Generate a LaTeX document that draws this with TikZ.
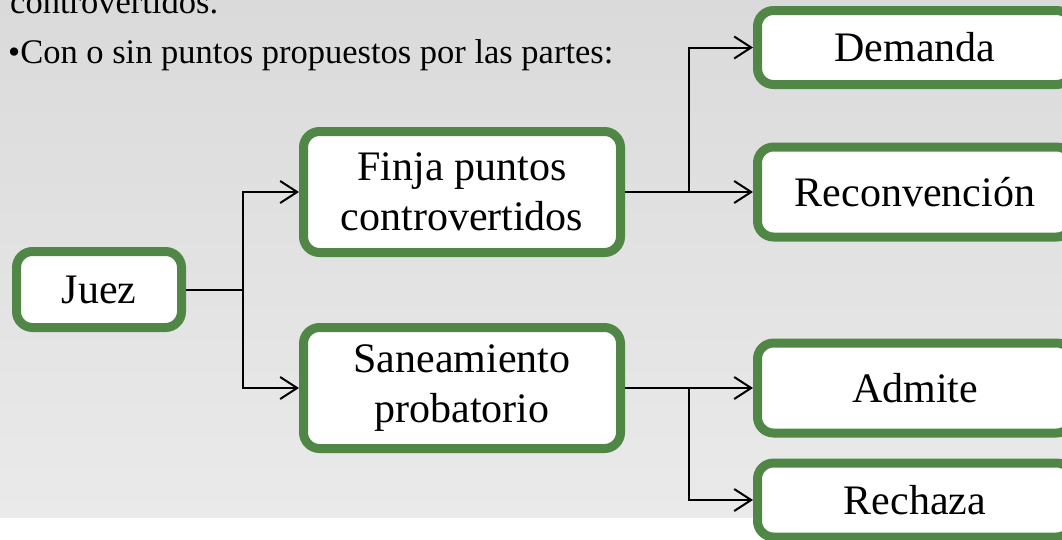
\documentclass[tikz,border=0pt]{standalone}
\usepackage{fontspec}
\setmainfont{Liberation Serif}
\usetikzlibrary{arrows.meta}
\definecolor{boxgreen}{RGB}{80,135,70}
\definecolor{bgtop}{RGB}{218,218,218}
\definecolor{bgbot}{RGB}{234,234,234}
\begin{document}
\begin{tikzpicture}[x=1pt,y=-1pt,
  box/.style={draw=boxgreen, line width=9pt, fill=white, rounded corners=16pt,
    font=\fontsize{42}{50}\selectfont, align=center, inner sep=0pt},
  conn/.style={line width=2pt, draw=black},
  arr/.style={conn, -{Straight Barb[length=17pt,width=22pt,line width=2pt]}},
  toptext/.style={anchor=base west, inner sep=0pt, font=\fontsize{34.5}{50}\selectfont}]
\useasboundingbox (0,0) rectangle (1062,539);
\fill[white] (0,0) rectangle (1062,539);
\shade[top color=bgtop, bottom color=bgbot] (0,0) rectangle (1062,517);

\node[toptext] (l1) at (10,13) {controvertidos.};
\node[toptext] (l2) at (8,63) {•Con o sin puntos propuestos por las partes:};

\node[box, minimum width=165pt, minimum height=76pt] (juez) at (99,289.5) {Juez};
\node[box, minimum width=317pt, minimum height=121pt] (finja) at (462,192) {Finja puntos\\controvertidos};
\node[box, minimum width=317pt, minimum height=121pt] (sanea) at (462,388) {Saneamiento\\probatorio};
\node[box, minimum width=315pt, minimum height=74pt] (dem) at (915,47.5) {Demanda};
\node[box, minimum width=315pt, minimum height=90pt] (recon) at (915,192) {Reconvención};
\node[box, minimum width=315pt, minimum height=90pt] (adm) at (915,388) {Admite};
\node[box, minimum width=315pt, minimum height=74pt] (rech) at (915,500) {Rechaza};

\coordinate (j1) at (243,289.5);
\coordinate (f1) at (689,192);
\coordinate (s1) at (689,388);

\draw[conn] (juez.east) -- (j1);
\draw[arr] (j1) |- (finja.west);
\draw[arr] (j1) |- (sanea.west);
\draw[arr] (finja.east) -- (recon.west);
\draw[arr] (f1) |- (dem.west);
\draw[arr] (sanea.east) -- (adm.west);
\draw[arr] (s1) |- (rech.west);
\end{tikzpicture}
\end{document}
